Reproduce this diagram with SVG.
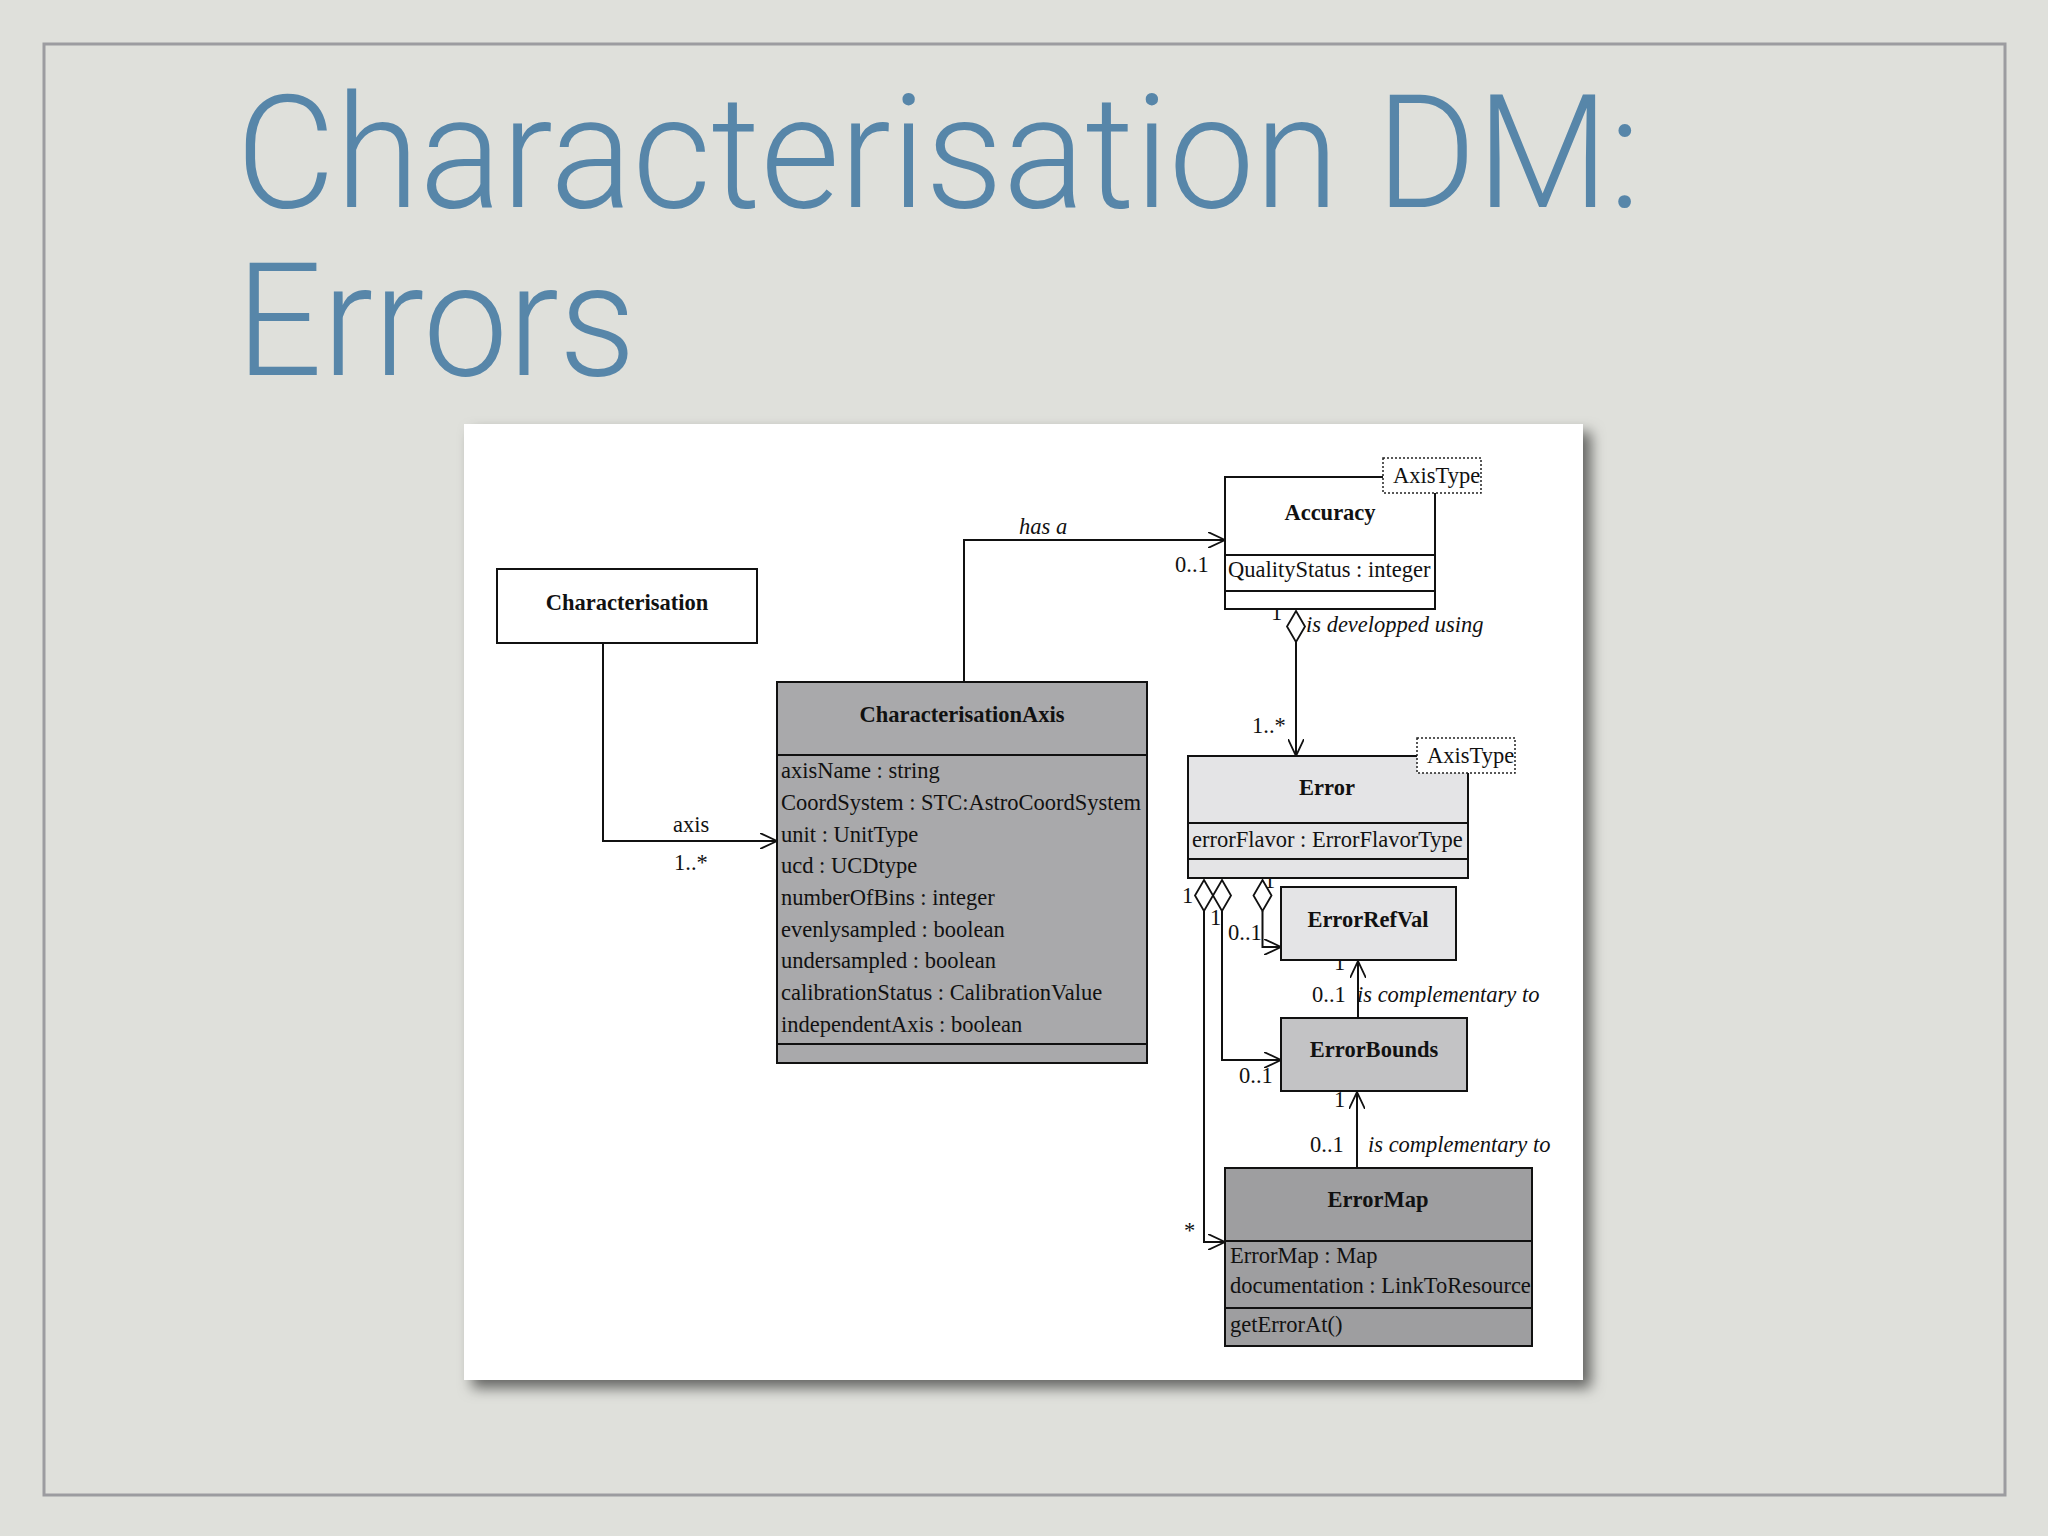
<svg xmlns="http://www.w3.org/2000/svg" width="2048" height="1536" viewBox="0 0 2048 1536">
<defs>
<style>
.t{font-family:"Liberation Serif","Times New Roman",serif;font-size:22.5px;fill:#111}
.b{font-weight:bold;text-anchor:middle}
.i{font-style:italic}
.box{stroke:#111;stroke-width:2}
.ln{fill:none;stroke:#111;stroke-width:2}
.dia{fill:#fff;stroke:#111;stroke-width:1.8}
.tag{fill:#fff;stroke:#222;stroke-width:1.5;stroke-dasharray:2 2}
.title{font-family:Roboto,"Liberation Sans",Arial,sans-serif;font-weight:300;font-size:158px;fill:#5786a9}
</style>
<marker id="arr" viewBox="0 0 18 16" refX="17" refY="8" markerWidth="18" markerHeight="16" markerUnits="userSpaceOnUse" orient="auto">
<path d="M0,0 L17,8 L0,16" fill="none" stroke="#111" stroke-width="1.8"/>
</marker>
<filter id="sh" x="-5%" y="-5%" width="115%" height="115%">
<feDropShadow dx="8" dy="8" stdDeviation="7" flood-color="#000" flood-opacity="0.55"/>
</filter>
<clipPath id="c1"><rect x="1383" y="458" width="98" height="36"/></clipPath>
<clipPath id="c2"><rect x="1417" y="738" width="98" height="36"/></clipPath>
</defs>
<rect x="0" y="0" width="2048" height="1536" fill="#dfe0db"/>
<rect x="44" y="44" width="1961" height="1451" fill="none" stroke="#9c9ca0" stroke-width="3"/>
<text class="title" x="236" y="207" textLength="1405" lengthAdjust="spacingAndGlyphs">Characterisation DM:</text>
<text class="title" x="236" y="375" textLength="400" lengthAdjust="spacingAndGlyphs">Errors</text>
<rect x="464" y="424" width="1119" height="956" fill="#fff" filter="url(#sh)"/>

<g id="connectors">
<path class="ln" d="M603,643 V841 H777" marker-end="url(#arr)"/>
<path class="ln" d="M964,682 V540 H1225" marker-end="url(#arr)"/>
<path class="ln" d="M1296,642 V756" marker-end="url(#arr)"/>
<polygon class="dia" points="1296,611 1305,626.5 1296,642 1287,626.5"/>
<path class="ln" d="M1262.5,911 V947 H1281" marker-end="url(#arr)"/>
<polygon class="dia" points="1262.5,880 1271.5,895.5 1262.5,911 1253.5,895.5"/>
<path class="ln" d="M1222,911 V1060 H1281" marker-end="url(#arr)"/>
<polygon class="dia" points="1222,880 1231,895.5 1222,911 1213,895.5"/>
<path class="ln" d="M1204,911 V1242 H1225" marker-end="url(#arr)"/>
<polygon class="dia" points="1204,880 1213,895.5 1204,911 1195,895.5"/>
<path class="ln" d="M1358,1018 V961" marker-end="url(#arr)"/>
<path class="ln" d="M1357,1168 V1092" marker-end="url(#arr)"/>
<text class="t i" x="1019" y="534">has a</text>
<text class="t" x="1175" y="572">0..1</text>
<text class="t" x="1271" y="620">1</text>
<text class="t i" x="1306" y="632">is developped using</text>
<text class="t" x="1252" y="733">1..*</text>
<text class="t" x="673" y="832">axis</text>
<text class="t" x="674" y="870">1..*</text>
<text class="t" x="1182" y="903">1</text>
<text class="t" x="1210" y="925">1</text>
<text class="t" x="1264" y="888">1</text>
<text class="t" x="1228" y="940">0..1</text>
<text class="t" x="1239" y="1083">0..1</text>
<text class="t" x="1334" y="970">1</text>
<text class="t" x="1312" y="1002">0..1</text>
<text class="t i" x="1357" y="1002">is complementary to</text>
<text class="t" x="1334" y="1107">1</text>
<text class="t" x="1310" y="1152">0..1</text>
<text class="t i" x="1368" y="1152">is complementary to</text>
<text class="t" x="1184" y="1238">*</text>
</g>

<g id="characterisation">
<rect class="box" x="497" y="569" width="260" height="74" fill="#fff"/>
<text class="t b" x="627" y="610">Characterisation</text>
</g>

<g id="characterisationAxis">
<rect class="box" x="777" y="682" width="370" height="381" fill="#a9a9ab"/>
<line class="box" x1="777" y1="755" x2="1147" y2="755"/>
<line class="box" x1="777" y1="1044" x2="1147" y2="1044"/>
<text class="t b" x="962" y="722">CharacterisationAxis</text>
<text class="t" x="781" y="778">axisName : string</text>
<text class="t" x="781" y="810">CoordSystem : STC:AstroCoordSystem</text>
<text class="t" x="781" y="842">unit : UnitType</text>
<text class="t" x="781" y="873">ucd : UCDtype</text>
<text class="t" x="781" y="905">numberOfBins : integer</text>
<text class="t" x="781" y="937">evenlysampled : boolean</text>
<text class="t" x="781" y="968">undersampled : boolean</text>
<text class="t" x="781" y="1000">calibrationStatus : CalibrationValue</text>
<text class="t" x="781" y="1032">independentAxis : boolean</text>
</g>

<g id="accuracy">
<rect class="box" x="1225" y="477" width="210" height="132" fill="#fff"/>
<line class="box" x1="1225" y1="555" x2="1435" y2="555"/>
<line class="box" x1="1225" y1="591" x2="1435" y2="591"/>
<text class="t b" x="1330" y="520">Accuracy</text>
<text class="t" x="1228" y="577">QualityStatus : integer</text>
<rect class="tag" x="1383" y="458" width="98" height="35"/>
<text class="t" x="1393" y="483" clip-path="url(#c1)">AxisType</text>
</g>

<g id="error">
<rect class="box" x="1188" y="756" width="280" height="122" fill="#e4e4e6"/>
<line class="box" x1="1188" y1="823" x2="1468" y2="823"/>
<line class="box" x1="1188" y1="859" x2="1468" y2="859"/>
<text class="t b" x="1327" y="795">Error</text>
<text class="t" x="1192" y="847">errorFlavor : ErrorFlavorType</text>
<rect class="tag" x="1417" y="738" width="98" height="35" fill="#e4e4e6"/>
<text class="t" x="1427" y="763" clip-path="url(#c2)">AxisType</text>
</g>

<g id="errorRefVal">
<rect class="box" x="1281" y="887" width="175" height="73" fill="#e4e4e6"/>
<text class="t b" x="1368" y="927">ErrorRefVal</text>
</g>

<g id="errorBounds">
<rect class="box" x="1281" y="1018" width="186" height="73" fill="#c3c3c5"/>
<text class="t b" x="1374" y="1057">ErrorBounds</text>
</g>

<g id="errorMap">
<rect class="box" x="1225" y="1168" width="307" height="178" fill="#9e9ea0"/>
<line class="box" x1="1225" y1="1241" x2="1532" y2="1241"/>
<line class="box" x1="1225" y1="1308" x2="1532" y2="1308"/>
<text class="t b" x="1378" y="1207">ErrorMap</text>
<text class="t" x="1230" y="1263">ErrorMap : Map</text>
<text class="t" x="1230" y="1293">documentation : LinkToResource</text>
<text class="t" x="1230" y="1332">getErrorAt()</text>
</g>
</svg>
